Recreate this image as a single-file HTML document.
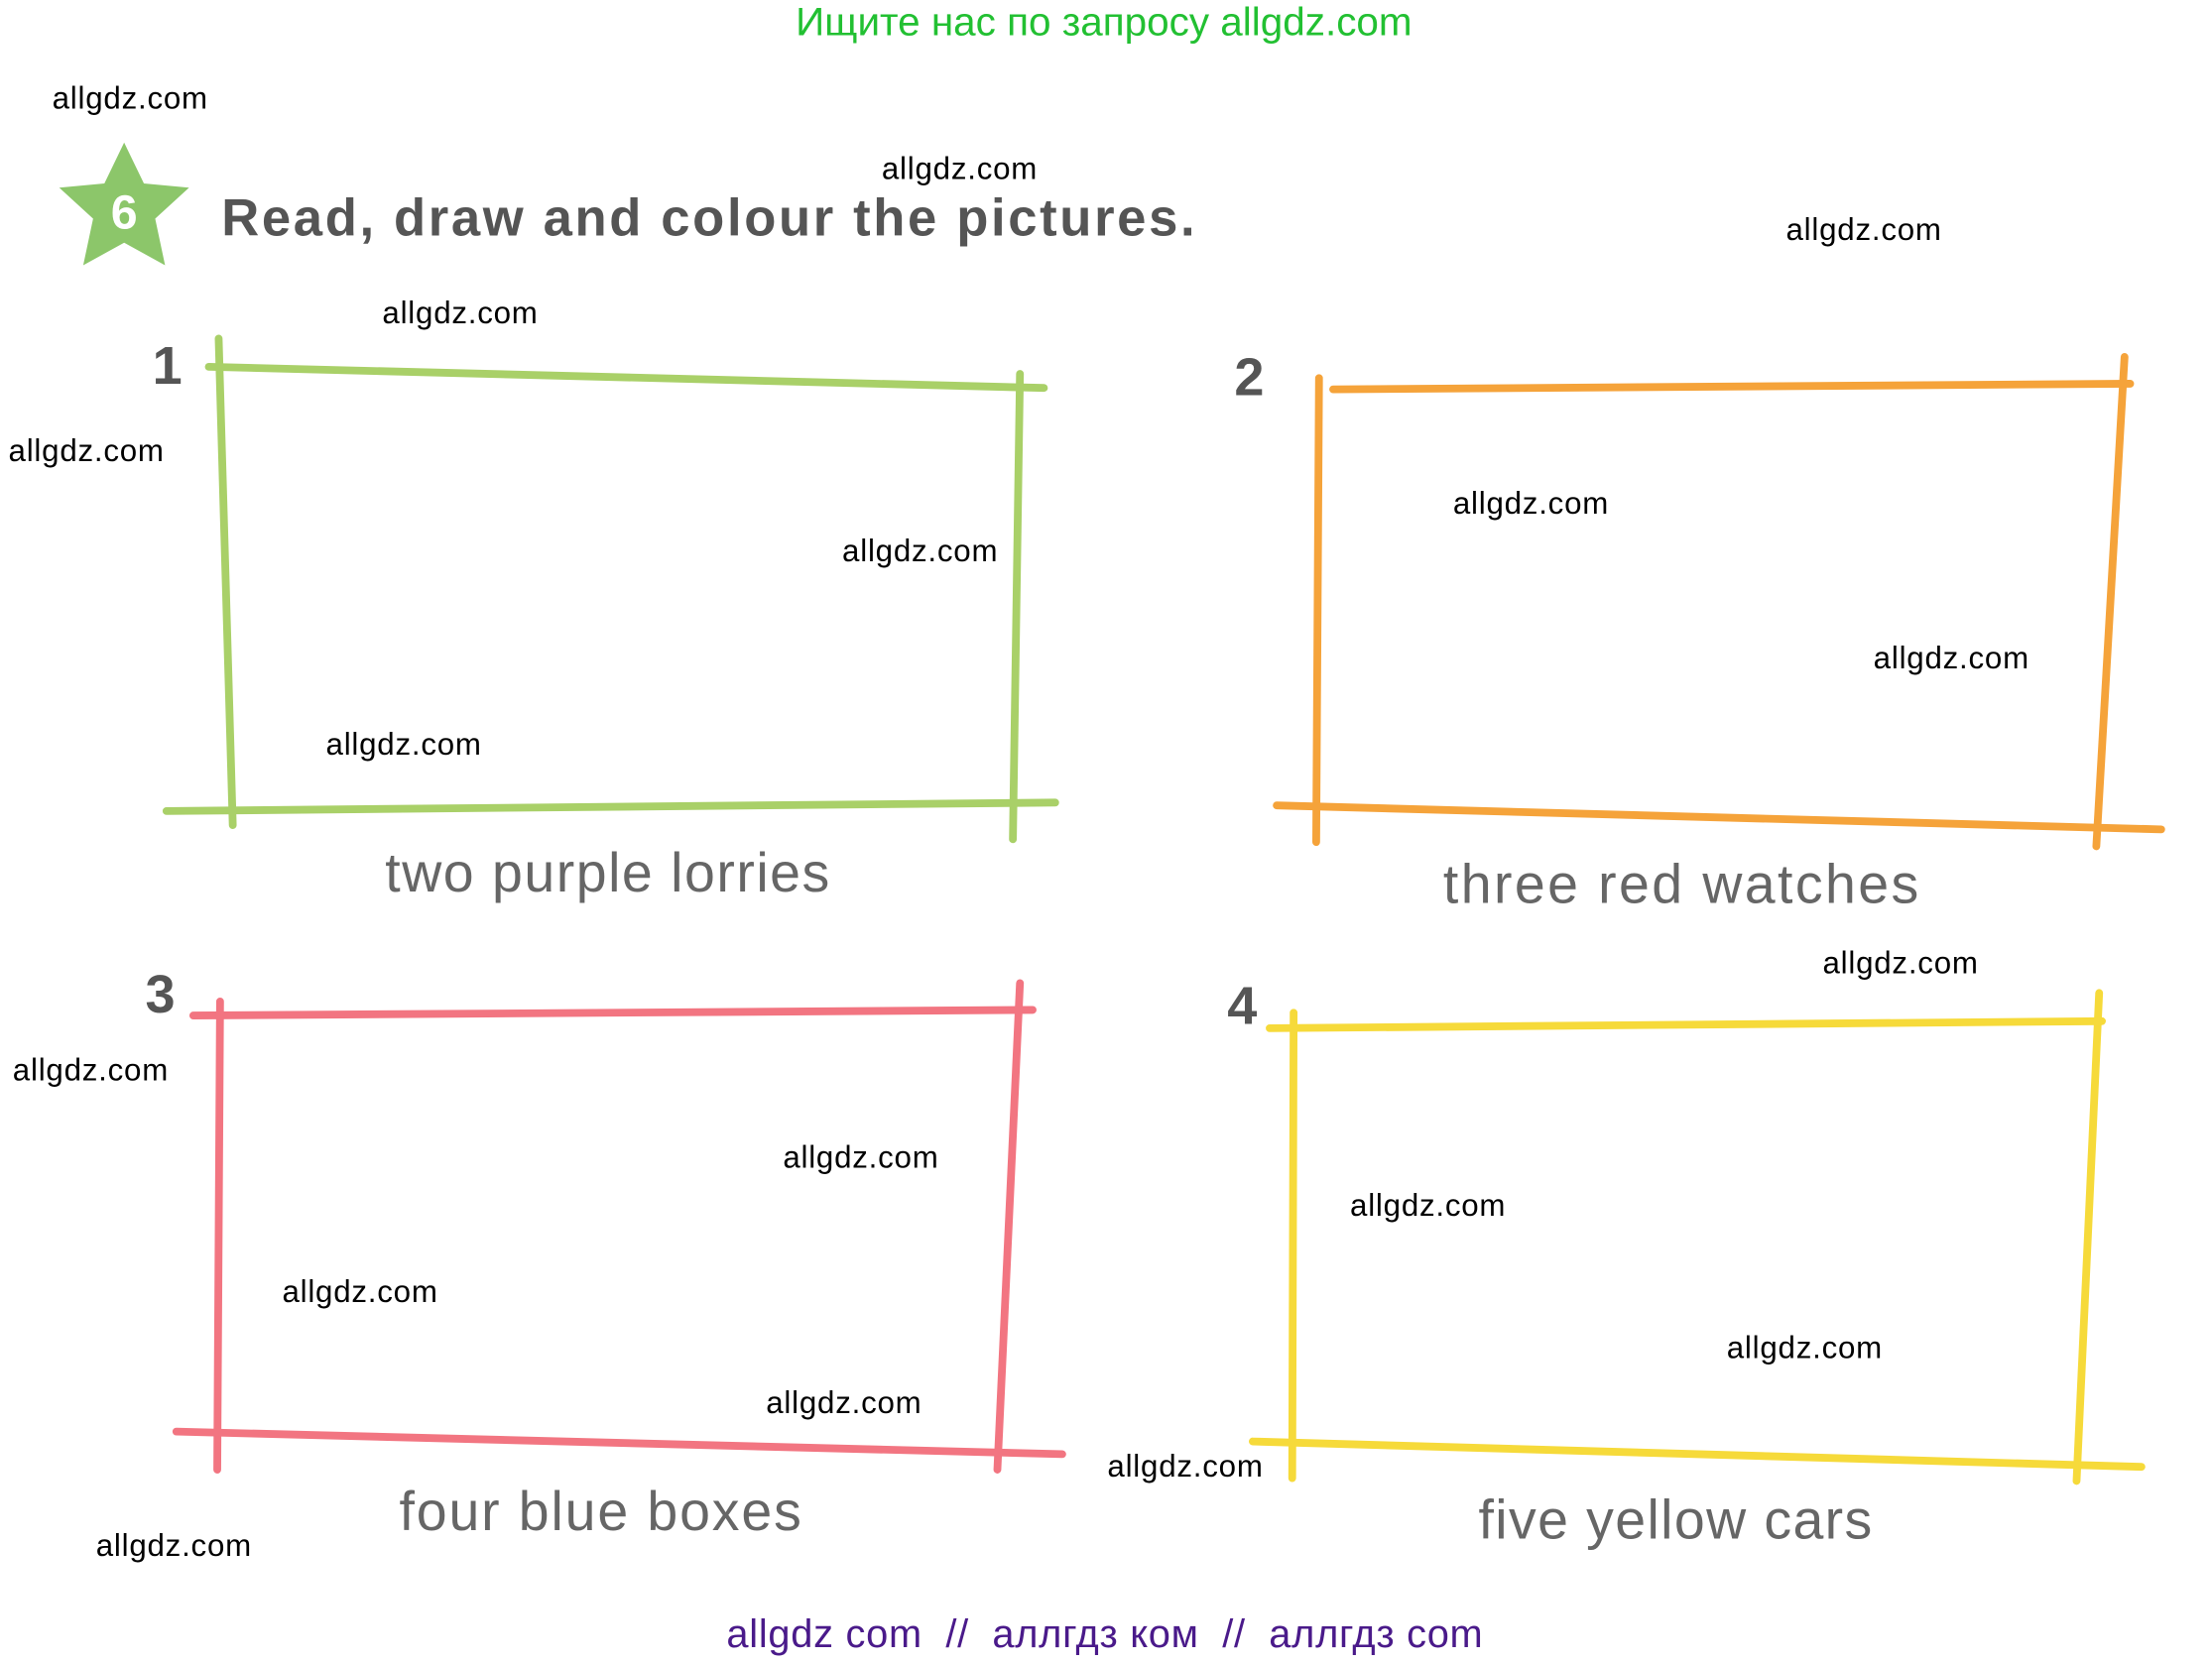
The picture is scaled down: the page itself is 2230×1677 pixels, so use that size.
<!DOCTYPE html>
<html><head><meta charset="utf-8"><style>
html,body{margin:0;padding:0;background:#fff;}
svg{display:block;}
</style></head><body>
<svg width="2230" height="1677" viewBox="0 0 1568 1179" xmlns="http://www.w3.org/2000/svg" font-family="Liberation Sans, sans-serif">
<rect width="1568" height="1179" fill="#fff"/>
<text x="564" y="25" font-size="28" fill="#22c032" textLength="437" lengthAdjust="spacingAndGlyphs">Ищите нас по запросу allgdz.com</text>
<polygon points="88,101 102,130 134,133 110,155 117,188 88,172 59,188 66,155 42,133 74,130" fill="#8cc66a"/>
<text x="88" y="162" text-anchor="middle" font-size="34" font-weight="bold" fill="#fff">6</text>
<text x="157" y="167" font-size="37" font-weight="bold" fill="#555" textLength="690">Read, draw and colour the pictures.</text>
<g stroke-width="5.5" stroke-linecap="round" fill="none">
<g stroke="#a9d068">
<line x1="148" y1="260" x2="740" y2="275"/><line x1="155" y1="240" x2="165" y2="585"/>
<line x1="723" y1="265" x2="718" y2="595"/><line x1="118" y1="575" x2="748" y2="569"/>
</g>
<g stroke="#f5a33a">
<line x1="945" y1="276" x2="1510" y2="272"/><line x1="935" y1="268" x2="933" y2="597"/>
<line x1="1506" y1="253" x2="1486" y2="600"/><line x1="905" y1="571" x2="1532" y2="588"/>
</g>
<g stroke="#f27581">
<line x1="137" y1="720" x2="732" y2="716"/><line x1="156" y1="710" x2="154" y2="1042"/>
<line x1="723" y1="697" x2="707" y2="1042"/><line x1="125" y1="1015" x2="753" y2="1031"/>
</g>
<g stroke="#f6da3a">
<line x1="900" y1="729" x2="1490" y2="724"/><line x1="917" y1="718" x2="916" y2="1048"/>
<line x1="1488" y1="704" x2="1472" y2="1050"/><line x1="888" y1="1022" x2="1518" y2="1040"/>
</g>
</g>
<g font-size="38" font-weight="bold" fill="#555">
<text x="108" y="272">1</text><text x="875" y="280">2</text>
<text x="103" y="718">3</text><text x="870" y="726">4</text>
</g>
<g font-size="39" fill="#666">
<text x="273" y="632" textLength="315">two purple lorries</text>
<text x="1023" y="640" textLength="337">three red watches</text>
<text x="283" y="1085" textLength="285">four blue boxes</text>
<text x="1048" y="1091" textLength="279">five yellow cars</text>
</g>
<g font-size="22" fill="#000">
<text x="37" y="77" textLength="110">allgdz.com</text><text x="625" y="127" textLength="110">allgdz.com</text>
<text x="1266" y="170" textLength="110">allgdz.com</text><text x="271" y="229" textLength="110">allgdz.com</text>
<text x="6" y="327" textLength="110">allgdz.com</text><text x="597" y="398" textLength="110">allgdz.com</text>
<text x="1030" y="364" textLength="110">allgdz.com</text><text x="1328" y="474" textLength="110">allgdz.com</text>
<text x="231" y="535" textLength="110">allgdz.com</text><text x="1292" y="690" textLength="110">allgdz.com</text>
<text x="9" y="766" textLength="110">allgdz.com</text><text x="555" y="828" textLength="110">allgdz.com</text>
<text x="957" y="862" textLength="110">allgdz.com</text><text x="200" y="923" textLength="110">allgdz.com</text>
<text x="1224" y="963" textLength="110">allgdz.com</text><text x="543" y="1002" textLength="110">allgdz.com</text>
<text x="785" y="1047" textLength="110">allgdz.com</text><text x="68" y="1103" textLength="110">allgdz.com</text>
</g>
<text x="515" y="1168" font-size="28" fill="#4a1a8a" xml:space="preserve" textLength="536">allgdz com  //  аллгдз ком  //  аллгдз com</text>
</svg>
</body></html>
